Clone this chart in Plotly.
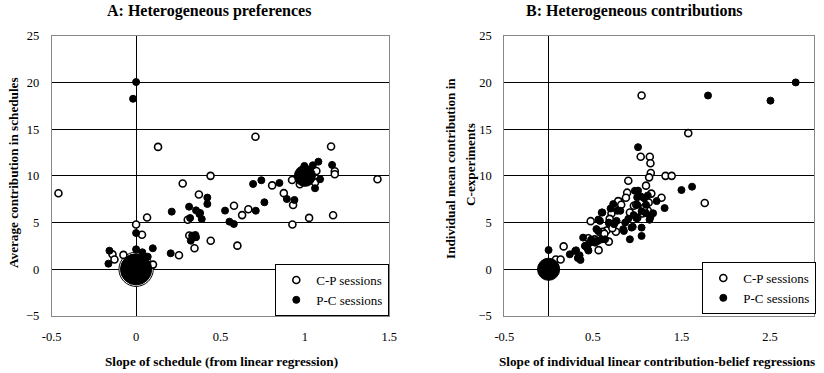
import numpy as np
import plotly.graph_objects as go

# ---------------- Data ----------------
# Panel A: Heterogeneous preferences (slope of schedule vs average contribution)
a_cp_x = [-0.46, 0.13, 0.0, 0.065, 0.035, 0.10, -0.14, -0.128, -0.075, 0.276, 0.254, 0.441,
          0.372, 0.306, 0.315, 0.346, 0.442, 0.58, 0.628, 0.665, 0.60, 0.707, 0.806, 0.875,
          0.924, 0.93, 0.926, 1.025, 0.97, 1.068, 1.06, 1.155, 1.177, 1.177, 1.167, 1.43, 0.0]
a_cp_y = [8.14, 13.1, 4.8, 5.55, 3.7, 0.5, 1.6, 1.05, 1.54, 9.18, 1.5, 10.0,
          8.0, 5.3, 3.62, 2.25, 3.06, 6.8, 5.8, 6.42, 2.53, 14.18, 8.98, 8.15,
          9.55, 6.88, 4.8, 5.5, 9.1, 10.52, 9.3, 13.14, 10.49, 10.17, 5.78, 9.63, 0.0]
a_cp_n = [1] * 36 + [24]

a_pc_x = [0.0, -0.018, 0.0, 0.0, 0.037, 0.069, 0.099, -0.158, -0.164, 0.205, 0.211, 0.314,
          0.32, 0.324, 0.332, 0.351, 0.355, 0.355, 0.375, 0.389, 0.422, 0.422, 0.379, 0.527,
          0.553, 0.579, 0.693, 0.742, 0.709, 0.76, 0.849, 0.893, 0.938, 0.997, 1.047, 1.08,
          1.161, 1.06, 1.09, 1.0, 0.0]
a_pc_y = [20.04, 18.25, 3.88, 2.14, 1.82, 1.35, 2.25, 1.99, 0.6, 1.71, 6.17, 6.7,
          5.49, 3.06, 3.6, 3.67, 3.43, 6.31, 5.92, 5.38, 7.67, 6.99, 6.03, 6.28,
          5.1, 4.85, 9.13, 9.53, 6.27, 7.17, 9.24, 7.52, 7.42, 11.06, 11.13, 11.52,
          11.17, 8.67, 9.64, 10.0, 0.0]
a_pc_n = [1] * 39 + [9, 20]

# Panel B: Heterogeneous contributions (slope of contribution-belief regression vs mean contribution)
b_cp_x = [1.05, 1.577, 1.04, 1.143, 1.15, 1.154, 1.135, 1.32, 1.39, 0.90, 0.887, 0.873,
          0.805, 0.786, 0.74, 0.71, 0.69, 0.69, 0.475, 0.655, 0.76, 0.68, 0.583, 0.565,
          0.448, 0.17, 0.083, 0.136, 0.963, 0.918, 1.06, 1.13, 1.275, 1.763, 1.10, 1.12,
          1.16, 0.99, 1.0, 0.72, 0.61, 0.63, 0.82, 1.08, 0.52, 0.42]
b_cp_y = [18.6, 14.57, 12.05, 12.05, 11.35, 10.3, 9.84, 10.0, 10.0, 9.48, 8.2, 7.65,
          7.2, 7.3, 6.55, 5.97, 5.4, 4.85, 5.15, 4.15, 4.02, 2.96, 3.93, 2.05,
          3.32, 2.45, 1.05, 1.05, 6.8, 6.08, 5.97, 7.15, 7.65, 7.09, 8.95, 6.3,
          8.1, 6.9, 5.5, 4.4, 4.0, 3.8, 6.9, 6.6, 3.2, 2.5]
b_cp_n = [1] * len(b_cp_x)

b_pc_x = [0.0, 1.8, 2.505, 2.79, 1.01, 1.5, 1.62, 1.31, 1.22, 0.974, 1.01, 1.0,
          1.04, 1.08, 1.12, 1.0, 1.1, 0.96, 0.99, 1.05, 1.1, 1.15, 1.18, 1.14,
          1.05, 1.05, 0.918, 0.937, 0.842, 0.865, 0.95, 0.775, 0.73, 0.60, 0.58, 0.56,
          0.54, 0.768, 0.74, 0.85, 0.81, 0.39, 0.53, 0.60, 0.638, 0.523, 0.555, 0.24,
          0.30, 0.31, 0.33, 0.35, 0.36, 0.41, 0.44, 0.46, 0.486, 0.45, 0.48, 0.562,
          0.607, 0.68, 0.70, 0.90, 0.0]
b_pc_y = [2.06, 18.6, 18.05, 20.0, 13.07, 8.48, 8.84, 6.55, 7.3, 8.4, 8.42, 7.7,
          7.8, 7.6, 7.9, 6.9, 6.9, 5.8, 5.5, 6.2, 6.0, 5.6, 6.0, 5.3,
          4.46, 3.57, 3.21, 4.46, 4.29, 5.0, 4.55, 6.26, 6.98, 6.08, 5.18, 4.1,
          4.3, 5.18, 4.83, 4.1, 6.26, 3.39, 3.0, 3.2, 3.21, 2.85, 3.03, 1.6,
          1.96, 2.03, 1.2, 1.5, 1.0, 2.5, 2.2, 2.8, 3.1, 2.0, 3.17, 5.32,
          6.08, 5.0, 6.5, 5.4, 0.0]
b_pc_n = [1] * 64 + [10]

a_xticks = [-0.5, 0, 0.5, 1, 1.5]
b_xticks = [-0.5, 0.5, 1.5, 2.5]
yticks = [-5, 0, 5, 10, 15, 20, 25]
legend_names = ["C-P sessions", "P-C sessions"]

# ---------------- Styling ----------------
W, H = 824, 373
FONT = "Liberation Serif"
BASE = 7.0  # diameter (px) of a single observation


def px_x(p):
    return p / W


def px_y(p):
    return 1 - p / H


fig = go.Figure()


def add_series(x, y, n, xa, ya, name, filled, legend):
    x = np.asarray(x, float)
    y = np.asarray(y, float)
    n = np.asarray(n, float)
    single = n == 1
    multi = ~single
    fill = "black" if filled else "white"
    # aggregated (bubble) observations drawn first
    if multi.any():
        order = np.argsort(-n[multi])
        fig.add_trace(go.Scatter(
            x=x[multi][order], y=y[multi][order], mode="markers", xaxis=xa, yaxis=ya,
            showlegend=False, legendgroup=name, hoverinfo="x+y",
            marker=dict(size=BASE * np.sqrt(n[multi][order]), opacity=1,
                        color=fill, line=dict(color="black", width=1))))
    fig.add_trace(go.Scatter(
        x=x[single], y=y[single], mode="markers", xaxis=xa, yaxis=ya, name=name,
        legend=legend, legendgroup=name,
        marker=dict(size=BASE, opacity=1, color=fill,
                    line=dict(color="black", width=1 if filled else 1.6))))


add_series(a_cp_x, a_cp_y, a_cp_n, "x", "y", legend_names[0], False, "legend")
add_series(a_pc_x, a_pc_y, a_pc_n, "x", "y", legend_names[1], True, "legend")
add_series(b_cp_x, b_cp_y, b_cp_n, "x2", "y2", legend_names[0], False, "legend2")
add_series(b_pc_x, b_pc_y, b_pc_n, "x2", "y2", legend_names[1], True, "legend2")

# plot area geometry (pixels)
A_L, A_R = 51.7, 389.3
B_L, B_R = 504.3, 814.3
TOP, BOT = 35.7, 316.0
y_dom = [px_y(BOT), px_y(TOP)]
zero_pos = y_dom[0] + (y_dom[1] - y_dom[0]) * (0 - (-5)) / 30.0

tickfont = dict(family=FONT, size=12.5, color="black")
common_x = dict(showgrid=False, zeroline=True, zerolinecolor="black", zerolinewidth=1,
                showline=True, mirror=True, linecolor="#878787", linewidth=1,
                ticks="outside", ticklen=9, tickcolor="rgba(0,0,0,0)",
                tickfont=tickfont, fixedrange=True, automargin=False)
common_y = dict(showgrid=True, gridcolor="black", gridwidth=1,
                zeroline=True, zerolinecolor="black", zerolinewidth=1,
                showline=True, mirror=True, linecolor="#878787", linewidth=1,
                ticks="outside", ticklen=9, tickcolor="rgba(0,0,0,0)",
                tickfont=tickfont, range=[-5, 25], tickvals=yticks, fixedrange=True,
                automargin=False)
overlay_x = dict(anchor="free", position=zero_pos, showticklabels=False, ticks="outside",
                 ticklen=4, tickcolor="black", showgrid=False, zeroline=False,
                 showline=False, fixedrange=True, automargin=False)

legfont = dict(family=FONT, size=13, color="black")
fig.update_layout(
    xaxis=dict(domain=[px_x(A_L), px_x(A_R)], range=[-0.5, 1.5], tickvals=a_xticks,
               ticktext=[f"{v:g}" for v in a_xticks], anchor="y", **common_x),
    yaxis=dict(domain=y_dom, anchor="x", **common_y),
    xaxis2=dict(domain=[px_x(B_L), px_x(B_R)], range=[-0.5, 3.0], tickvals=b_xticks,
                ticktext=[f"{v:g}" for v in b_xticks], anchor="y2", **common_x),
    yaxis2=dict(domain=y_dom, anchor="x2", **common_y),
    # tick marks sitting on the zero line (axis crossing)
    xaxis3=dict(overlaying="x", range=[-0.5, 1.5], tickvals=a_xticks, **overlay_x),
    xaxis4=dict(overlaying="x2", range=[-0.5, 3.0], tickvals=b_xticks, **overlay_x),
    width=W, height=H, margin=dict(l=0, r=0, t=0, b=0, pad=0, autoexpand=False),
    paper_bgcolor="white", plot_bgcolor="white",
    font=dict(family=FONT, color="black"),
    legend=dict(x=px_x(A_R), y=px_y(BOT), xanchor="right", yanchor="bottom",
                bgcolor="white", bordercolor="black", borderwidth=1,
                font=legfont, itemwidth=30, tracegroupgap=0),
    legend2=dict(x=px_x(B_R + 2), y=px_y(BOT - 2), xanchor="right", yanchor="bottom",
                 bgcolor="white", bordercolor="black", borderwidth=1,
                 font=legfont, itemwidth=30, tracegroupgap=0),
)

ann = []
tfont = dict(family=FONT, size=16, color="black")
afont = dict(family=FONT, size=13.2, color="black")
ann.append(dict(text="<b>A: Heterogeneous preferences</b>", x=px_x(209), y=px_y(11), font=tfont))
ann.append(dict(text="<b>B: Heterogeneous contributions</b>", x=px_x(634), y=px_y(11), font=tfont))
ann.append(dict(text="<b>Slope of schedule (from linear regression)</b>", x=px_x(221), y=px_y(361), font=afont))
ann.append(dict(text="<b>Slope of individual linear contribution-belief regressions</b>",
                x=px_x(657), y=px_y(361), font=afont))
ann.append(dict(text="<b>Average contribution in schedules</b>", x=px_x(13), y=px_y(173),
                textangle=-90, font=afont))
ann.append(dict(text="<b>Individual mean contribution in</b>", x=px_x(450), y=px_y(169),
                textangle=-90, font=afont))
ann.append(dict(text="<b>C-experiments</b>", x=px_x(470), y=px_y(165),
                textangle=-90, font=afont))
for a in ann:
    a.update(xref="paper", yref="paper", showarrow=False, xanchor="center", yanchor="middle")
fig.update_layout(annotations=ann)

fig.write_html("out.html")
